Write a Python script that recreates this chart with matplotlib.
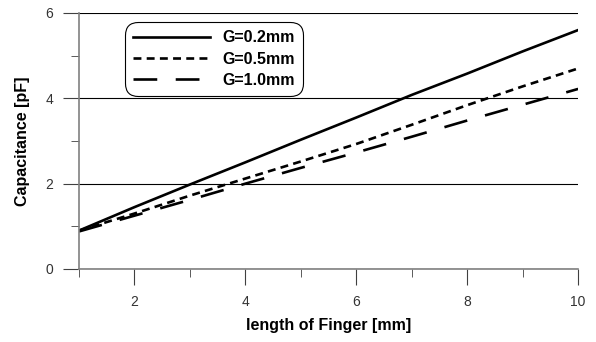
import matplotlib
matplotlib.use('Agg')
import matplotlib.pyplot as plt
from matplotlib.ticker import MultipleLocator

plt.rcParams['font.family'] = ['Liberation Sans', 'DejaVu Sans']

length = [1, 2, 3, 4, 5, 6, 7, 8, 9, 10]
cap_02 = [0.90, 1.45, 1.98, 2.50, 3.03, 3.55, 4.08, 4.58, 5.10, 5.60]
cap_05 = [0.90, 1.30, 1.72, 2.12, 2.52, 2.93, 3.38, 3.84, 4.28, 4.70]
cap_10 = [0.88, 1.25, 1.62, 2.00, 2.37, 2.73, 3.10, 3.48, 3.85, 4.22]
labels = ['G=0.2mm', 'G=0.5mm', 'G=1.0mm']

fig = plt.figure(figsize=(5.96, 3.42), dpi=100)
ax = fig.add_axes([0.1326, 0.2135, 0.8374, 0.7485])

ax.plot(length, cap_02, color='black', lw=1.9, ls='-', label=labels[0])
ax.plot(length, cap_05, color='black', lw=1.9, ls=(0, (3, 2)), label=labels[1])
ax.plot(length, cap_10, color='black', lw=1.9, ls=(0, (9, 7)), label=labels[2])

ax.set_xlim(1, 10)
ax.set_ylim(0, 6)
ax.xaxis.set_major_locator(MultipleLocator(2))
ax.xaxis.set_minor_locator(MultipleLocator(1))
ax.yaxis.set_major_locator(MultipleLocator(2))
ax.yaxis.set_minor_locator(MultipleLocator(1))
ax.grid(axis='y', which='major', color='black', lw=0.8)
ax.set_axisbelow(True)

for side in ['top', 'right']:
    ax.spines[side].set_visible(False)
for side in ['left', 'bottom']:
    ax.spines[side].set_color('#808080')
    ax.spines[side].set_linewidth(1.2)

ax.tick_params(which='major', direction='out', length=11.5, color='#404040',
               labelsize=10, labelcolor='#333333')
ax.tick_params(which='minor', direction='out', length=6, color='#404040')
ax.xaxis.set_tick_params(which='major', pad=7)
ax.yaxis.set_tick_params(which='major', pad=7)

ax.set_xlabel('length of Finger [mm]', fontsize=11.5, fontweight='bold', labelpad=7)
ax.set_ylabel('Capacitance [pF]', fontsize=11.5, fontweight='bold', labelpad=11)

leg = ax.legend(loc='upper left', bbox_to_anchor=(0.076, 0.995), fancybox=True,
                edgecolor='black', framealpha=1, handlelength=4.8,
                prop={'weight': 'bold', 'size': 11.5}, borderpad=0.5,
                labelspacing=0.4)
leg.get_frame().set_linewidth(0.8)
leg.get_frame().set_boxstyle('round', pad=0, rounding_size=0.8)

fig.savefig('out.png', dpi=100)
